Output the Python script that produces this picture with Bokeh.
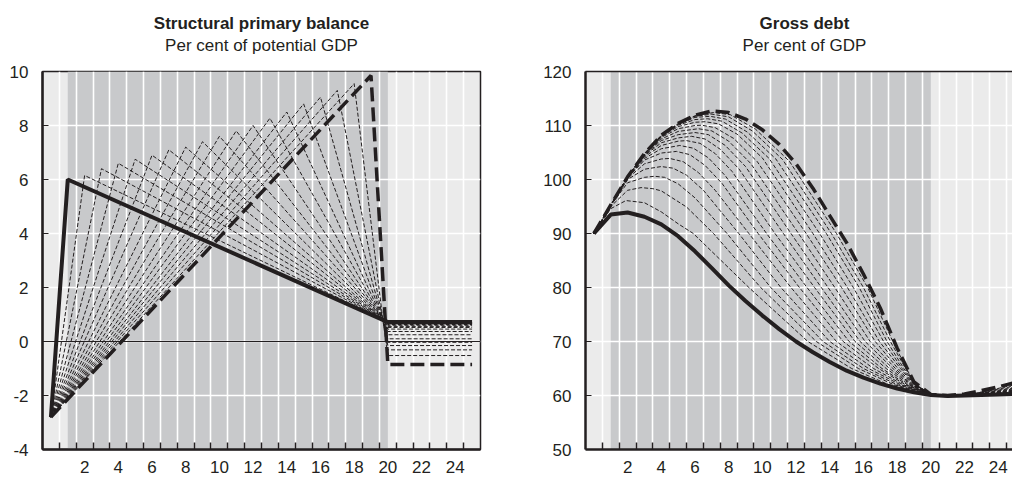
from bokeh.plotting import figure
from bokeh.models import (FixedTicker, BoxAnnotation, Span, ColumnDataSource,
                          LinearAxis, Range1d)
from bokeh.layouts import row, column
from bokeh.core.properties import value
from bokeh.embed import file_html
from bokeh.resources import INLINE

# ---------------------------------------------------------------- data
x_label_years = [2, 4, 6, 8, 10, 12, 14, 16, 18, 20, 22, 24]
year_boundaries = [i + 0.5 for i in range(25)]
consolidation_start = 1
consolidation_end = 20

# Structural primary balance: one scenario per year in which the peak is reached
balance_start_year = 0
balance_start = -2.8
balance_peak_years = [1, 2, 3, 4, 5, 6, 7, 8, 9, 10, 11, 12, 13, 14, 15, 16, 17, 18, 19]
balance_peak_values = [6.0, 6.15, 6.4, 6.6, 6.75, 6.9, 7.1, 7.2, 7.4, 7.6, 7.8, 8.0,
                       8.27, 8.5, 8.8, 9.05, 9.3, 9.55, 9.85]
balance_converge_year = 19.7
balance_converge_value = 0.82
balance_drop_year = 20
balance_end_year = 25
balance_final_values = [0.72, 0.71, 0.70, 0.69, 0.67, 0.65, 0.63, 0.60, 0.56, 0.52,
                        0.46, 0.37, 0.25, 0.10, -0.03, -0.15, -0.31, -0.52, -0.85]

# Gross debt
debt_years = list(range(26))
debt_solid = [90, 93.5, 93.9, 93.1, 91.7, 89.5, 86.7, 83.6, 80.4, 77.5, 74.8, 72.3, 70.0,
              68.0, 66.2, 64.6, 63.3, 62.2, 61.3, 60.6, 60.1, 59.9, 60.0, 60.1, 60.2, 60.3]
debt_dashed = [90, 95.3, 100.5, 104.8, 108.2, 110.4, 111.9, 112.7, 112.4, 111.2, 109.2,
               106.5, 102.9, 98.4, 93.3, 88.3, 82.5, 76.2, 68.8, 62.5, 60.2, 60.0, 60.3,
               60.9, 61.6, 62.4]
debt_thin_x = [
    [0, 1, 1.9, 3.0, 4.0, 5.0, 5.9, 9.2, 12.7, 15.3, 17.5, 20, 21, 22.5, 25],
    [0, 1, 2, 2.8, 3.5, 4.0, 5.5, 7.1, 9.9, 13.2, 15.7, 17.8, 20, 21, 22.5, 25],
    [0, 1, 2, 3, 3.6, 4.2, 5.0, 6.0, 7.9, 10.5, 13.6, 16.0, 18.0, 20, 21, 22.5, 25],
    [0, 1, 2, 3, 4.0, 4.7, 5.5, 6.5, 8.6, 11.1, 14.0, 16.3, 18.2, 20, 21, 22.5, 25],
    [0, 1, 2, 3, 4, 4.5, 5.3, 6.2, 7.2, 9.2, 11.7, 14.4, 16.6, 18.35, 20, 21, 22.5, 25],
    [0, 1, 2, 3, 4, 4.9, 5.7, 6.6, 7.6, 9.75, 12.2, 14.8, 16.9, 18.5, 20, 21, 22.5, 25],
    [0, 1, 2, 3, 4, 5.1, 5.9, 6.8, 7.8, 10.25, 12.65, 15.15, 17.1, 18.6, 20, 21, 22.5, 25],
    [0, 1, 2, 3, 4, 5, 5.5, 6.3, 7.2, 8.2, 10.75, 13.1, 15.5, 17.35, 18.7, 20, 21, 22.5, 25],
    [0, 1, 2, 3, 4, 5, 5.8, 6.6, 7.5, 8.6, 11.25, 13.5, 15.8, 17.55, 18.8, 20, 21, 22.5, 25],
    [0, 1, 2, 3, 4, 5, 6, 6.8, 7.8, 9.0, 11.7, 13.9, 16.1, 17.75, 18.85, 20, 21, 22.5, 25],
    [0, 1, 2, 3, 4, 5, 6.2, 7.0, 8.0, 9.3, 12.15, 14.3, 16.4, 17.9, 18.9, 20, 21, 22.5, 25],
    [0, 1, 2, 3, 4, 5, 6, 6.4, 7.2, 8.3, 9.7, 12.6, 14.7, 16.7, 18.05, 18.95, 20, 21, 22.5, 25],
    [0, 1, 2, 3, 4, 5, 6, 6.6, 7.4, 8.5, 10.0, 13.0, 15.05, 16.95, 18.2, 19.0, 20, 21, 22.5, 25],
    [0, 1, 2, 3, 4, 5, 6, 6.75, 7.6, 8.8, 10.4, 13.4, 15.4, 17.2, 18.3, 19.03, 20, 21, 22.5, 25],
    [0, 1, 2, 3, 4, 5, 6, 6.9, 7.8, 9.1, 10.8, 13.8, 15.75, 17.4, 18.4, 19.06, 20, 21, 22.5, 25],
    [0, 1, 2, 3, 4, 5, 6, 7.0, 8.0, 9.4, 11.2, 14.1, 16.0, 17.6, 18.5, 19.08, 20, 21, 22.5, 25],
    [0, 1, 2, 3, 4, 5, 6, 7.1, 8.1, 9.6, 11.6, 14.4, 16.25, 17.75, 18.55, 19.1, 20, 21, 22.5, 25],
]
debt_thin_y = [
    [90, 94.6, 96.1, 95.7, 94.0, 91.8, 90, 80, 70, 65, 62, 60.3, 60.0, 60.1, 60.3],
    [90, 95.0, 98.0, 98.5, 98.3, 97.9, 94.9, 90, 80, 70, 65, 62, 60.3, 60.0, 60.1, 60.35],
    [90, 95.2, 99.4, 100.4, 100.6, 100.4, 99.2, 96.6, 90, 80, 70, 65, 62, 60.3, 60.0, 60.1, 60.4],
    [90, 95.2, 100.0, 101.9, 102.4, 102.1, 100.8, 98.0, 90, 80, 70, 65, 62, 60.3, 60.0, 60.1, 60.45],
    [90, 95.2, 100.2, 102.9, 103.8, 103.9, 103.3, 101.3, 98.0, 90, 80, 70, 65, 62, 60.3, 60.0, 60.15, 60.5],
    [90, 95.2, 100.3, 103.6, 104.9, 105.2, 104.6, 102.6, 99.3, 90, 80, 70, 65, 62, 60.3, 60.0, 60.15, 60.55],
    [90, 95.2, 100.35, 103.9, 105.7, 106.3, 105.8, 104.0, 100.7, 90, 80, 70, 65, 62, 60.3, 60.0, 60.15, 60.6],
    [90, 95.2, 100.4, 104.2, 106.3, 107.1, 107.2, 106.7, 104.8, 101.5, 90, 80, 70, 65, 62, 60.3, 60.0, 60.15, 60.7],
    [90, 95.2, 100.4, 104.4, 106.8, 107.7, 108.0, 107.5, 105.6, 102.0, 90, 80, 70, 65, 62, 60.3, 60.0, 60.2, 60.8],
    [90, 95.2, 100.4, 104.5, 107.2, 108.3, 108.7, 108.3, 106.3, 102.4, 90, 80, 70, 65, 62, 60.3, 60.0, 60.2, 60.9],
    [90, 95.2, 100.45, 104.6, 107.5, 108.9, 109.4, 109.0, 107.1, 103.0, 90, 80, 70, 65, 62, 60.3, 60.0, 60.2, 61.0],
    [90, 95.2, 100.45, 104.7, 107.8, 109.4, 110.0, 110.05, 109.6, 107.6, 103.3, 90, 80, 70, 65, 62, 60.3, 60.0, 60.2, 61.1],
    [90, 95.2, 100.5, 104.7, 107.95, 109.8, 110.6, 110.7, 110.3, 108.4, 104.0, 90, 80, 70, 65, 62, 60.3, 60.0, 60.25, 61.25],
    [90, 95.25, 100.5, 104.75, 108.05, 110.05, 111.1, 111.25, 110.8, 108.6, 103.9, 90, 80, 70, 65, 62, 60.3, 60.0, 60.25, 61.4],
    [90, 95.25, 100.5, 104.75, 108.1, 110.2, 111.5, 111.7, 111.2, 108.8, 103.8, 90, 80, 70, 65, 62, 60.3, 60.0, 60.3, 61.6],
    [90, 95.25, 100.5, 104.8, 108.15, 110.3, 111.7, 112.1, 111.6, 109.0, 103.7, 90, 80, 70, 65, 62, 60.3, 60.0, 60.3, 61.8],
    [90, 95.3, 100.5, 104.8, 108.2, 110.35, 111.8, 112.4, 112.0, 109.3, 103.4, 90, 80, 70, 65, 62, 60.3, 60.0, 60.3, 62.0],
]

balance_ticks = [-4, -2, 0, 2, 4, 6, 8, 10]
debt_ticks = [50, 60, 70, 80, 90, 100, 110, 120]

balance_title = "Structural primary balance"
balance_subtitle = "Per cent of potential GDP"
debt_title = "Gross debt"
debt_subtitle = "Per cent of GDP"

# ---------------------------------------------------------------- style / layout
INK = "#231f20"
BG_LIGHT = "#ebebeb"
BG_DARK = "#c8c9cb"
FONT = "Liberation Sans"
HEAD_H = 60          # height of the title strip above each chart
PLOT_H = 420
TITLE_Y = 37         # pixel rows (from bottom of title strip)
SUBTITLE_Y = 15.5
X_CENTER = 12.5


def make_fig(width, min_left, min_right, x_range, y_lo, y_hi, y_ticks):
    p = figure(width=width, height=PLOT_H, x_range=x_range,
               y_range=Range1d(y_lo, y_hi), output_backend="svg",
               toolbar_location=None, min_border_left=min_left,
               min_border_right=min_right, min_border_top=11, min_border_bottom=31)
    p.background_fill_color = BG_LIGHT
    p.border_fill_color = "white"
    p.add_layout(BoxAnnotation(left=consolidation_start, right=consolidation_end,
                               fill_color=BG_DARK, fill_alpha=1, line_color=None,
                               level="image"))
    xt = FixedTicker(ticks=x_label_years, minor_ticks=year_boundaries)
    p.xaxis.ticker = xt
    p.xgrid.ticker = xt
    p.xgrid.grid_line_color = None
    p.xgrid.minor_grid_line_color = "white"
    p.xgrid.minor_grid_line_width = 1.6
    p.xaxis.major_tick_in = 0
    p.xaxis.major_tick_out = 0
    p.xaxis.minor_tick_in = 7
    p.xaxis.minor_tick_out = 0
    p.xaxis.minor_tick_line_color = INK
    p.xaxis.minor_tick_line_width = 1.5
    p.xaxis.axis_line_color = INK
    p.xaxis.axis_line_width = 2.5
    p.xaxis.major_label_text_font = FONT
    p.xaxis.major_label_text_font_size = "17px"
    p.xaxis.major_label_text_color = INK
    p.xaxis.major_label_standoff = 11

    yt = FixedTicker(ticks=y_ticks, minor_ticks=[])
    p.yaxis.ticker = yt
    p.ygrid.ticker = yt
    p.ygrid.grid_line_color = "white"
    p.ygrid.grid_line_width = 1.6
    p.yaxis.major_tick_in = 6
    p.yaxis.major_tick_out = 0
    p.yaxis.major_tick_line_color = INK
    p.yaxis.major_tick_line_width = 1.2
    p.yaxis.minor_tick_line_color = None
    p.yaxis.axis_line_color = INK
    p.yaxis.axis_line_width = 2.5
    p.yaxis.major_label_text_font = FONT
    p.yaxis.major_label_text_font_size = "17px"
    p.yaxis.major_label_text_color = INK
    p.yaxis.major_label_standoff = 14
    p.yaxis.major_label_overrides = {t: str(t) for t in y_ticks}
    return p


def make_head(width, min_left, min_right, x_range, title, subtitle):
    h = figure(width=width, height=HEAD_H, x_range=x_range, y_range=Range1d(0, HEAD_H),
               output_backend="svg", toolbar_location=None, x_axis_type=None,
               y_axis_type=None, min_border_left=min_left, min_border_right=min_right,
               min_border_top=0, min_border_bottom=0)
    h.outline_line_color = None
    h.grid.visible = False
    h.background_fill_color = "white"
    h.border_fill_color = "white"
    h.text(x=[X_CENTER], y=[TITLE_Y], text=[title], text_font=value(FONT),
           text_font_style="bold", text_font_size=value("17px"), text_color=INK,
           text_align="center", text_baseline="middle")
    h.text(x=[X_CENTER], y=[SUBTITLE_Y], text=[subtitle], text_font=value(FONT),
           text_font_size=value("17px"), text_color=INK,
           text_align="center", text_baseline="middle")
    return h


# ---------------------------------------------------------------- left panel
xr1 = Range1d(-0.5, 25.5)
p1 = make_fig(500, 42, 20, xr1, -4, 10, balance_ticks)
p1.outline_line_color = INK
p1.outline_line_width = 1.5
p1.add_layout(Span(location=0, dimension="width", line_color=INK, line_width=1,
                   level="underlay"))
h1 = make_head(500, 42, 20, xr1, balance_title, balance_subtitle)

n_bal = len(balance_peak_years)
thin_xs, thin_ys = [], []
for i in range(1, n_bal - 1):
    thin_xs.append([balance_start_year, balance_peak_years[i], balance_converge_year,
                    balance_drop_year, balance_end_year])
    thin_ys.append([balance_start, balance_peak_values[i], balance_converge_value,
                    balance_final_values[i], balance_final_values[i]])
p1.multi_line(xs="xs", ys="ys", source=ColumnDataSource(dict(xs=thin_xs, ys=thin_ys)),
              line_color=INK, line_width=1, line_dash="4 2")
p1.line([balance_start_year, balance_peak_years[-1], balance_drop_year, balance_end_year],
        [balance_start, balance_peak_values[-1], balance_final_values[-1],
         balance_final_values[-1]],
        line_color=INK, line_width=3.5, line_dash="14 6")
p1.line([balance_start_year, balance_peak_years[0], balance_drop_year, balance_end_year],
        [balance_start, balance_peak_values[0], balance_final_values[0],
         balance_final_values[0]],
        line_color=INK, line_width=4)

# ---------------------------------------------------------------- right panel
xr2 = Range1d(-0.5, 24.85)
p2 = make_fig(512, 85, 0, xr2, 50, 120, debt_ticks)
p2.outline_line_color = None
top_axis = LinearAxis(ticker=FixedTicker(ticks=[], minor_ticks=[]),
                      major_tick_out=0, major_tick_in=0, minor_tick_out=0,
                      minor_tick_in=0, major_label_standoff=0,
                      axis_line_color=INK, axis_line_width=1.5)
p2.add_layout(top_axis, "above")
h2 = make_head(512, 85, 0, xr2, debt_title, debt_subtitle)

p2.multi_line(xs="xs", ys="ys",
              source=ColumnDataSource(dict(xs=debt_thin_x, ys=debt_thin_y)),
              line_color=INK, line_width=1, line_dash="4 2")
p2.line(debt_years, debt_dashed, line_color=INK, line_width=3.5, line_dash="14 6")
p2.line(debt_years, debt_solid, line_color=INK, line_width=4)

layout = row(column(h1, p1), column(h2, p2))
open("out.html", "w").write(file_html(layout, INLINE))
